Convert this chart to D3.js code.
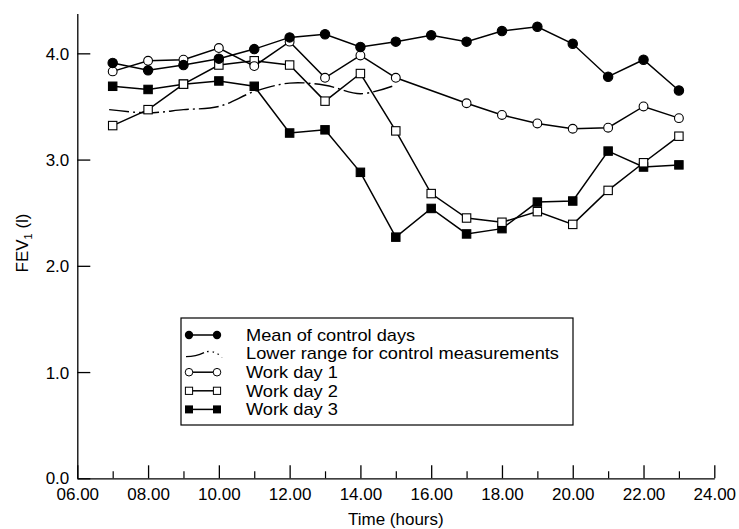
<!DOCTYPE html>
<html>
<head>
<meta charset="utf-8">
<script src="https://cdn.jsdelivr.net/npm/d3@7"></script>
<style>
  html, body { margin: 0; padding: 0; background: #fff; }
  svg { display: block; }
  text { font-family: "Liberation Sans", Arial, Helvetica, sans-serif; fill: #000; }
</style>
</head>
<body>
<svg id="chart" width="739" height="529"></svg>
<script>
// ---- data ----
const hours = [7, 8, 9, 10, 11, 12, 13, 14, 15, 16, 17, 18, 19, 20, 21, 22, 23];
const meanControl = [3.91, 3.84, 3.89, 3.95, 4.04, 4.15, 4.18, 4.06, 4.11, 4.17, 4.11, 4.21, 4.25, 4.09, 3.78, 3.94, 3.65];
const workDay1 = [3.83, 3.93, 3.94, 4.05, 3.88, 4.11, 3.77, 3.98, 3.77, null, 3.53, 3.42, 3.34, 3.29, 3.30, 3.50, 3.39];
const workDay2 = [3.32, 3.47, 3.71, 3.89, 3.93, 3.89, 3.55, 3.81, 3.27, 2.68, 2.45, 2.41, 2.51, 2.39, 2.71, 2.97, 3.22];
const workDay3 = [3.69, 3.66, 3.71, 3.74, 3.69, 3.25, 3.28, 2.88, 2.27, 2.54, 2.30, 2.35, 2.60, 2.61, 3.08, 2.93, 2.95];
const lowerRangeHours = [6.9, 8, 9, 10, 11, 12, 13, 14, 14.9];
const lowerRange = [3.47, 3.44, 3.47, 3.50, 3.64, 3.72, 3.70, 3.62, 3.69];
const xMajorTicks = [6, 8, 10, 12, 14, 16, 18, 20, 22, 24];
const xMinorTicks = [7, 9, 11, 13, 15, 17, 19, 21, 23];
const yTicks = [0, 1, 2, 3, 4];
const legendLabels = ["Mean of control days", "Lower range for control measurements", "Work day 1", "Work day 2", "Work day 3"];

// ---- setup ----
const svg = d3.select("#chart");
const x = d3.scaleLinear().domain([6, 24]).range([77.3, 714.3]);
const y = d3.scaleLinear().domain([0, 4.375]).range([478.3, 13.5]);

// axes
const xAxis = svg.append("g").attr("transform", `translate(0,${y(0)})`)
  .call(d3.axisBottom(x).tickValues(xMajorTicks).tickSize(-13).tickSizeOuter(0).tickPadding(9.5)
    .tickFormat(d => d3.format("02")(d) + ".00"));
xAxis.selectAll("text").attr("font-size", 17).style("font-family", null);
xAxis.select(".domain").attr("stroke-width", 1.3);
xAxis.selectAll(".tick line").attr("stroke-width", 1.3);

const xMinor = svg.append("g").attr("transform", `translate(0,${y(0)})`)
  .call(d3.axisBottom(x).tickValues(xMinorTicks).tickSize(-7).tickSizeOuter(0).tickFormat(""));
xMinor.select(".domain").remove();
xMinor.selectAll(".tick line").attr("stroke-width", 1.2);

const yAxis = svg.append("g").attr("transform", `translate(${x(6)},0)`)
  .call(d3.axisLeft(y).tickValues(yTicks).tickSize(-13).tickSizeOuter(0).tickPadding(8)
    .tickFormat(d3.format(".1f")));
yAxis.selectAll("text").attr("font-size", 17).style("font-family", null)
  .attr("dy", d => d === 0 ? "0.28em" : "0.36em");
yAxis.select(".domain").attr("stroke-width", 1.3);
yAxis.selectAll(".tick line").attr("stroke-width", 1.3);
svg.selectAll(".tick text").attr("fill", "#000");
svg.selectAll(".domain, .tick line").attr("stroke", "#000");

// axis titles
svg.append("text").attr("x", (x(6) + x(24)) / 2).attr("y", 525)
  .attr("text-anchor", "middle").attr("font-size", 17).text("Time (hours)");
const yt = svg.append("text").attr("transform", `translate(28,243) rotate(-90)`)
  .attr("text-anchor", "middle").attr("font-size", 17);
yt.append("tspan").text("FEV");
yt.append("tspan").attr("font-size", 11).attr("dy", 4).text("1");
yt.append("tspan").attr("dy", -4).text(" (l)");

// series
const pts = vals => hours.map((h, i) => ({h, v: vals[i]})).filter(d => d.v !== null);
const line = d3.line().x(d => x(d.h)).y(d => y(d.v));

// lower range dash-dot curve
const lr = lowerRangeHours.map((h, i) => ({h, v: lowerRange[i]}));
svg.append("path").datum(lr)
  .attr("d", d3.line().x(d => x(d.h)).y(d => y(d.v)).curve(d3.curveCatmullRom.alpha(0.5)))
  .attr("fill", "none").attr("stroke", "#000").attr("stroke-width", 1.4)
  .attr("stroke-dasharray", "20,4,2,4");

const series = [
  {vals: meanControl, shape: "circle", fill: "#000"},
  {vals: workDay1, shape: "circle", fill: "#fff"},
  {vals: workDay2, shape: "square", fill: "#fff"},
  {vals: workDay3, shape: "square", fill: "#000"}
];
series.forEach(s => {
  svg.append("path").datum(pts(s.vals)).attr("d", line)
    .attr("fill", "none").attr("stroke", "#000").attr("stroke-width", 1.5);
});
series.slice().reverse().forEach(s => {
  const g = svg.append("g");
  pts(s.vals).forEach(d => {
    if (s.shape === "circle") {
      g.append("circle").attr("cx", x(d.h)).attr("cy", y(d.v)).attr("r", s.fill === "#000" ? 4.7 : 4.4)
        .attr("fill", s.fill).attr("stroke", "#000").attr("stroke-width", 1.1);
    } else {
      g.append("rect").attr("x", x(d.h) - 4.2).attr("y", y(d.v) - 4.2).attr("width", 8.4).attr("height", 8.4)
        .attr("fill", s.fill).attr("stroke", "#000").attr("stroke-width", 1.1);
    }
  });
});

// legend
const lg = svg.append("g");
lg.append("rect").attr("x", 181).attr("y", 318).attr("width", 392).attr("height", 107)
  .attr("fill", "#fff").attr("stroke", "#000").attr("stroke-width", 1.2);
const rowY = i => 335 + i * 18.6;
const lx0 = 189, lx1 = 217;
legendLabels.forEach((t, i) => {
  lg.append("text").attr("transform", `translate(246,${rowY(i)}) scale(1.14,1)`)
    .attr("dy", "0.36em").attr("font-size", 16).text(t);
});
[0, 2, 3, 4].forEach(i => {
  lg.append("line").attr("x1", lx0).attr("x2", lx1).attr("y1", rowY(i)).attr("y2", rowY(i))
    .attr("stroke", "#000").attr("stroke-width", 1.5);
});
[lx0, lx1].forEach(cx => {
  lg.append("circle").attr("cx", cx).attr("cy", rowY(0)).attr("r", 4.2).attr("fill", "#000");
  lg.append("circle").attr("cx", cx).attr("cy", rowY(2)).attr("r", 3.8).attr("fill", "#fff")
    .attr("stroke", "#000").attr("stroke-width", 1);
  lg.append("rect").attr("x", cx - 3.6).attr("y", rowY(3) - 3.6).attr("width", 7.2).attr("height", 7.2)
    .attr("fill", "#fff").attr("stroke", "#000").attr("stroke-width", 1);
  lg.append("rect").attr("x", cx - 4).attr("y", rowY(4) - 4).attr("width", 8).attr("height", 8)
    .attr("fill", "#000");
});
// row 1: dash-dot symbol
const ry = rowY(1);
lg.append("path").attr("d", `M${lx0 - 3},${ry + 3} Q${lx0 + 7},${ry + 3} ${lx0 + 15},${ry - 1}`)
  .attr("fill", "none").attr("stroke", "#000").attr("stroke-width", 1.3);
lg.append("path").attr("d", `M${lx0 + 18},${ry - 2} Q${lx0 + 27},${ry - 3} ${lx0 + 33},${ry + 4}`)
  .attr("fill", "none").attr("stroke", "#000").attr("stroke-width", 1.3)
  .attr("stroke-dasharray", "1.5,4");
</script>
</body>
</html>
